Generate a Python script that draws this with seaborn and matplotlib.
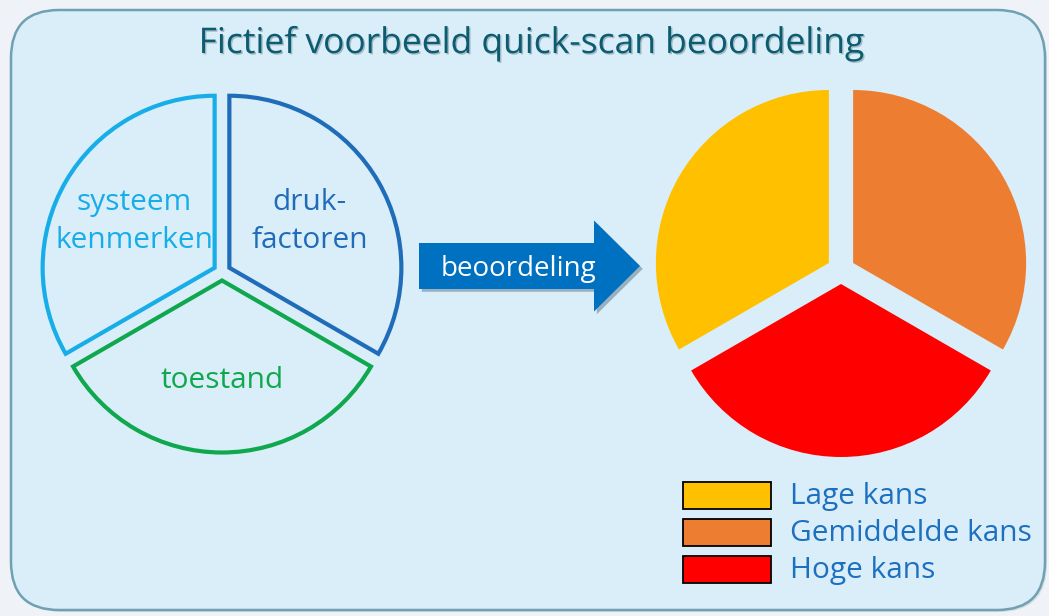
import matplotlib.pyplot as plt
import matplotlib.patches as mpatches
import matplotlib.patheffects as pe
import seaborn as sns

# text and data of the diagram
title = "Fictief voorbeeld quick-scan beoordeling"

aspects = ["systeem\nkenmerken", "druk-\nfactoren", "toestand"]
aspect_share = [1, 1, 1]
aspect_colors = ["#17ADE9", "#1F6CB9", "#10A84E"]

risk_labels = ["Lage kans", "Gemiddelde kans", "Hoge kans"]
risk_share = [1, 1, 1]
risk_colors = ["#FFC000", "#ED7D31", "#FF0000"]

arrow_label = "beoordeling"

sns.set_theme(style="white")
plt.rcParams['font.family'] = ['Open Sans', 'DejaVu Sans']

W, H = 1049, 616
fig = plt.figure(figsize=(W / 100, H / 100), dpi=100)
fig.patch.set_facecolor('#EFF3F8')
ax = fig.add_axes([0, 0, 1, 1])
ax.set_facecolor('none')

# rounded panel with a soft shadow
shadow = mpatches.FancyBboxPatch((14, 4), 1033, 600, boxstyle="round,pad=0,rounding_size=48",
                                 fc='#B9C6CF', ec='none', alpha=0.5, zorder=0)
panel = mpatches.FancyBboxPatch((11, 6), 1034, 600, boxstyle="round,pad=0,rounding_size=48",
                                fc='#DAEEF9', ec='#6FA1B2', lw=1.8, zorder=1)
ax.add_patch(shadow)
ax.add_patch(panel)

ax.text(531, H - 53, title, ha='center', va='baseline', fontsize=25.5, color='#0B5C70',
        zorder=5, path_effects=[pe.withSimplePatchShadow(offset=(1, -1), alpha=0.25)])

# left pie: outlined wedges
wedges, texts = ax.pie(aspect_share, labels=aspects, center=(222, H - 272), radius=172,
                       explode=[8.5] * 3, startangle=210, counterclock=False,
                       labeldistance=0.54, frame=True,
                       wedgeprops=dict(linewidth=3, joinstyle='miter'))
for w, t, c in zip(wedges, texts, aspect_colors):
    w.set_facecolor('none')
    w.set_edgecolor(c)
    w.set_zorder(3)
    t.set_color(c)
    t.set_fontsize(21.5)
    t.set_ha('center')
    t.set_va('center')
    t.set_linespacing(1.4)
# the bottom label sits a bit lower in its wedge
texts[2].set_y(texts[2].get_position()[1] - 7)

# right pie: filled wedges
wedges2, _ = ax.pie(risk_share, colors=risk_colors, center=(841, H - 270), radius=173,
                    explode=[14] * 3, startangle=210, counterclock=False, frame=True,
                    wedgeprops=dict(linewidth=0))
for w in wedges2:
    w.set_zorder(3)

# arrow
arr = mpatches.FancyArrow(419, H - 266, 221, 0, width=46, head_width=91, head_length=46,
                          length_includes_head=True, fc='#0070C0', ec='none', zorder=4,
                          path_effects=[pe.withSimplePatchShadow(offset=(2, -2), alpha=0.3)])
ax.add_patch(arr)
ax.text(518, H - 276, arrow_label, ha='center', va='baseline', fontsize=20, color='white', zorder=5)

# legend
baselines = [504, 541, 578]
for lab, c, b in zip(risk_labels, risk_colors, baselines):
    ax.add_patch(mpatches.Rectangle((683, H - b - 5), 88, 27, fc=c, ec='black', lw=1.3, zorder=4))
    ax.text(790, H - b, lab, ha='left', va='baseline', fontsize=21.5, color='#1D70C0', zorder=5)

ax.set_xlim(0, W)
ax.set_ylim(0, H)
ax.set_aspect('equal')
ax.axis('off')

fig.savefig('out.png', dpi=100, facecolor=fig.get_facecolor())
